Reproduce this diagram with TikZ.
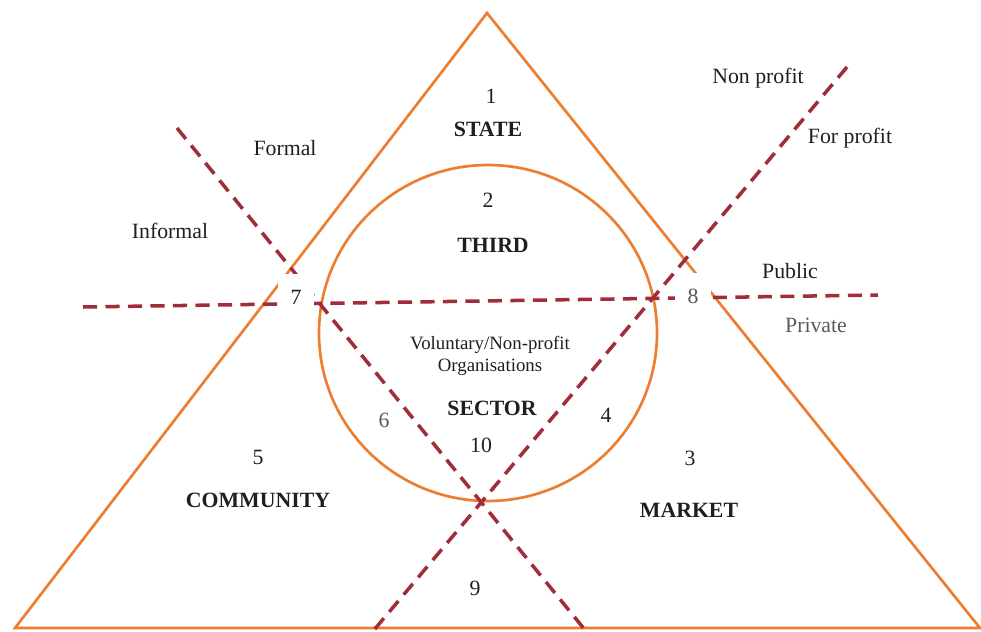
\documentclass[tikz,border=0pt]{standalone}
\usepackage{fontspec}
\setmainfont{Liberation Serif}
\definecolor{triorange}{RGB}{236,126,50}
\definecolor{splitred}{RGB}{160,45,58}

\begin{document}
\begin{tikzpicture}[x=0.025cm,y=-0.025cm]
\tikzstyle{every node} = [font=\fontsize{15.5}{18}\selectfont, text=black!88]
\tikzstyle{sector} = [font=\fontsize{15.5}{18}\selectfont\bfseries]
\tikzstyle{faint} = [text=black!65]
\tikzstyle{small} = [font=\fontsize{13.4}{16}\selectfont, align=center]
\tikzstyle{cross} = [fill=white, inner sep=0pt, minimum width=0.9cm, minimum height=1.15cm]
\tikzstyle{tri} = [triorange, line width=1.9pt]
\tikzstyle{split} = [splitred, line width=2.5pt, dash pattern=on 10pt off 6pt]
\useasboundingbox (0,0) rectangle (981,632);

\path (487,13) coordinate (apex)
		(15,628) coordinate (west)
		(980,628) coordinate (east)
		(488,333) coordinate (hub)
		(83,307) coordinate (pubW)
		(878,295) coordinate (pubE)
		(177,128) coordinate (formN)
		(585,630) coordinate (formS)
		(847,67) coordinate (profN)
		(374,630) coordinate (profS);

	\draw[tri] (node cs:name=apex) -- (node cs:name=east) -- (node cs:name=west) -- cycle;
	\draw[tri] (node cs:name=hub) ellipse [x radius=169, y radius=168];
	\draw[split] (node cs:name=pubW) -- (node cs:name=pubE);
	\draw[split] (node cs:name=formN) -- (node cs:name=formS);
	\draw[split] (node cs:name=profN) -- (node cs:name=profS);

\path (491,96) node (n1) {1}
		(488,129) node[sector] (state) {STATE}
		(488,200) node (n2) {2}
		(493,245) node[sector] (third) {THIRD}
		(490,356) node[small] (vol) {Voluntary/Non-profit\\Organisations}
		(492,408) node[sector] (sector) {SECTOR}
		(384,420) node[faint] (n6) {6}
		(606,415) node (n4) {4}
		(481,445) node (n10) {10}
		(258,457) node (n5) {5}
		(258,500) node[sector] (community) {COMMUNITY}
		(690,458) node (n3) {3}
		(689,510) node[sector] (market) {MARKET}
		(475,588) node (n9) {9}
		(285,148) node (formal) {Formal}
		(170,231) node (informal) {Informal}
		(758,78) node (nonprofit) {Non profit}
		(850,138) node (forprofit) {For profit}
		(790,271) node (public) {Public}
		(816,325) node[faint] (private) {Private}
		(296,297) node[cross] (n7) {7}
		(693,296) node[cross, faint] (n8) {8};
\end{tikzpicture}
\end{document}
